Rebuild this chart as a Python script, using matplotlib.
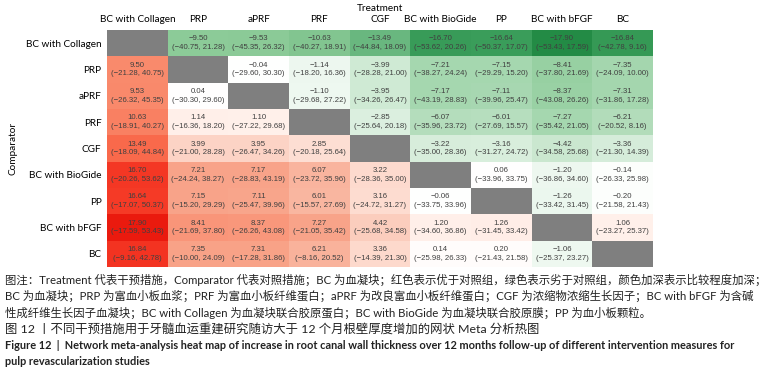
import numpy as np
import matplotlib
matplotlib.use("Agg")
import matplotlib.pyplot as plt
from matplotlib.colors import LinearSegmentedColormap

# 处理名称（行 = Comparator，列 = Treatment）
treatments = ["BC with Collagen", "PRP", "aPRF", "PRF", "CGF",
              "BC with BioGide", "PP", "BC with bFGF", "BC"]

N = None
# 效应值
est = [
    [N, -9.50, -9.53, -10.63, -13.49, -16.70, -16.64, -17.90, -16.84],
    [9.50, N, -0.04, -1.14, -3.99, -7.21, -7.15, -8.41, -7.35],
    [9.53, 0.04, N, -1.10, -3.95, -7.17, -7.11, -8.37, -7.31],
    [10.63, 1.14, 1.10, N, -2.85, -6.07, -6.01, -7.27, -6.21],
    [13.49, 3.99, 3.95, 2.85, N, -3.22, -3.16, -4.42, -3.36],
    [16.70, 7.21, 7.17, 6.07, 3.22, N, 0.06, -1.20, -0.14],
    [16.64, 7.15, 7.11, 6.01, 3.16, -0.06, N, -1.26, -0.20],
    [17.90, 8.41, 8.37, 7.27, 4.42, 1.20, 1.26, N, 1.06],
    [16.84, 7.35, 7.31, 6.21, 3.36, 0.14, 0.20, -1.06, N],
]
# 95% CI 下限
lo = [
    [N, -40.75, -45.35, -40.27, -44.84, -53.62, -50.37, -53.43, -42.78],
    [-21.28, N, -29.60, -18.20, -28.28, -38.27, -29.29, -37.80, -24.09],
    [-26.32, -30.30, N, -29.68, -34.26, -43.19, -39.96, -43.08, -31.86],
    [-18.91, -16.36, -27.22, N, -25.64, -35.96, -27.69, -35.42, -20.52],
    [-18.09, -21.00, -26.47, -20.18, N, -35.00, -31.27, -34.58, -21.30],
    [-20.26, -24.24, -28.83, -23.72, -28.36, N, -33.96, -36.86, -26.33],
    [-17.07, -15.20, -25.47, -15.57, -24.72, -33.75, N, -33.42, -21.58],
    [-17.59, -21.69, -26.26, -21.05, -25.68, -34.60, -31.45, N, -23.27],
    [-9.16, -10.00, -17.28, -8.16, -14.39, -25.98, -21.43, -25.37, N],
]
# 95% CI 上限
hi = [
    [N, 21.28, 26.32, 18.91, 18.09, 20.26, 17.07, 17.59, 9.16],
    [40.75, N, 30.30, 16.36, 21.00, 24.24, 15.20, 21.69, 10.00],
    [45.35, 29.60, N, 27.22, 26.47, 28.83, 25.47, 26.26, 17.28],
    [40.27, 18.20, 29.68, N, 20.18, 23.72, 15.57, 21.05, 8.16],
    [44.84, 28.28, 34.26, 25.64, N, 28.36, 24.72, 25.68, 14.39],
    [53.62, 38.27, 43.19, 35.96, 35.00, N, 33.75, 34.60, 25.98],
    [50.37, 29.29, 39.96, 27.69, 31.27, 33.96, N, 31.45, 21.43],
    [53.43, 37.80, 43.08, 35.42, 34.58, 36.86, 33.42, N, 25.37],
    [42.78, 24.09, 31.86, 20.52, 21.30, 26.33, 21.58, 23.27, N],
]

caption = [
    "图注：Treatment 代表干预措施，Comparator 代表对照措施；BC 为血凝块；红色表示优于对照组，绿色表示劣于对照组，颜色加深表示比较程度加深；",
    "BC 为血凝块；PRP 为富血小板血浆；PRF 为富血小板纤维蛋白；aPRF 为改良富血小板纤维蛋白；CGF 为浓缩物浓缩生长因子；BC with bFGF 为含碱",
    "性成纤维生长因子血凝块；BC with Collagen 为血凝块联合胶原蛋白；BC with BioGide 为血凝块联合胶原膜；PP 为血小板颗粒。",
]
title_cn = "图 12 丨不同干预措施用于牙髓血运重建研究随访大于 12 个月根壁厚度增加的网状 Meta 分析热图"
caption_en = [
    "Figure 12  |  Network meta-analysis heat map of increase in root canal wall thickness over 12 months follow-up of different intervention measures for",
    "pulp revascularization studies",
]

lab_font = ["Lato", "DejaVu Sans"]
cap_font = ["Lato", "Noto Sans CJK SC", "DejaVu Sans"]

vals = np.array([[np.nan if v is None else v for v in r] for r in est], dtype=float)
vmax = np.nanmax(np.abs(vals))

# 绿 - 白 - 红，取色自原图
stops = [
    (0.000, "#238b45"), (0.035, "#3a9d5a"), (0.125, "#6bb880"), (0.235, "#8ccb98"),
    (0.30, "#a6d7b0"), (0.39, "#d0ead5"), (0.47, "#eef8f0"), (0.50, "#ffffff"),
    (0.53, "#fff0ea"), (0.61, "#fcd4c6"), (0.70, "#f8a48a"), (0.765, "#f98a6c"),
    (0.875, "#f96b4c"), (0.965, "#f53a26"), (1.000, "#ea1a0e"),
]
cmap = LinearSegmentedColormap.from_list("gr", stops)
cmap.set_bad("#7f7f7f")

fig = plt.figure(figsize=(7.71, 3.79), dpi=100)
ax = fig.add_axes([107 / 771, 1 - 267 / 379, 546 / 771, 237 / 379])

n = len(treatments)
ax.pcolormesh(np.ma.masked_invalid(vals), cmap=cmap, vmin=-vmax, vmax=vmax)
ax.set_xlim(0, n)
ax.set_ylim(n, 0)

def fmt(v):
    return f"{v:.2f}".replace("-", "\u2212")

for i in range(n):
    for j in range(n):
        if est[i][j] is None:
            continue
        ax.text(j + 0.5, i + 0.5,
                f"{fmt(est[i][j])}\n({fmt(lo[i][j])}, {fmt(hi[i][j])})",
                ha="center", va="center", fontsize=5.6, color="#404040",
                family="Liberation Sans", linespacing=1.35)

ax.xaxis.tick_top()
ax.set_xticks(np.arange(n) + 0.5)
ax.set_xticklabels(treatments, fontsize=7.2, family=lab_font)
ax.set_yticks(np.arange(n) + 0.5)
ax.set_yticklabels(treatments, fontsize=7.2, family=lab_font)
ax.tick_params(length=0, pad=4)
for s in ax.spines.values():
    s.set_visible(False)

ax.set_xlabel("Treatment", fontsize=7.2, family=lab_font, labelpad=3)
ax.xaxis.set_label_position("top")
ax.set_ylabel("Comparator", fontsize=7.2, family=lab_font, labelpad=6)

y = 1 - 280 / 379
for line in caption:
    fig.text(5 / 771, y, line, fontsize=8.2, family=cap_font, va="center", color="#222222")
    y -= 16.3 / 379
fig.text(5 / 771, y, title_cn, fontsize=8.9, family=cap_font, va="center", color="#222222")
y -= 16.3 / 379
for line in caption_en:
    fig.text(5 / 771, y, line, fontsize=7.9, family=cap_font, weight="bold",
             va="center", color="#222222")
    y -= 16.3 / 379

fig.savefig("out.png", dpi=100)
